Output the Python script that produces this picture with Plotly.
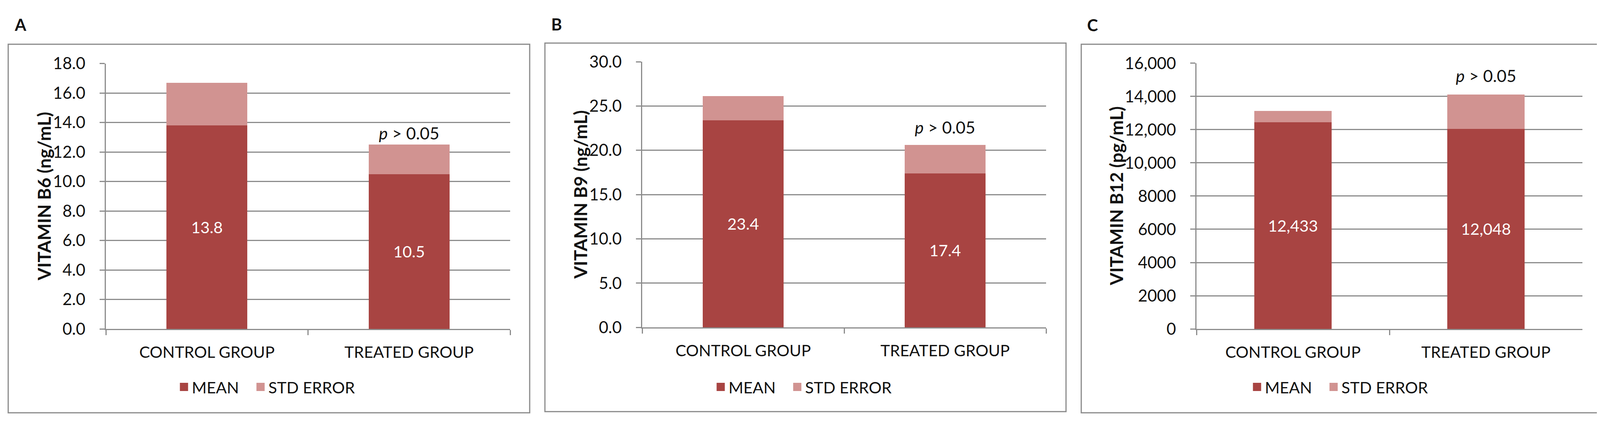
import plotly.graph_objects as go

# ---------------- data ----------------
categories = ["CONTROL GROUP", "TREATED GROUP"]
series_names = ["MEAN", "STD ERROR"]

b6_mean = [13.8, 10.5]
b6_se = [2.9, 2.0]

b9_mean = [23.4, 17.4]
b9_se = [2.7, 3.2]

b12_mean = [12433, 12048]
b12_se = [700, 2060]

b6_range = [0, 18]
b9_range = [0, 30]
b12_range = [0, 16000]
b12_tickvals = [0, 2000, 4000, 6000, 8000, 10000, 12000, 14000, 16000]
b12_ticktext = ["0", "2000", "4000", "6000", "8000", "10,000", "12,000", "14,000", "16,000"]

panel_letters = ["A", "B", "C"]
y_titles = ["VITAMIN B6 (ng/mL)", "VITAMIN B9 (ng/mL)", "VITAMIN B12 (pg/mL)"]
p_label = "<i>p</i> &gt; 0.05"

# ---------------- style ----------------
W, H = 4110, 1088
FONT = "Lato"
MEAN_COLOR = "#A84442"
SE_COLOR = "#D19391"
SERIES_COLORS = [MEAN_COLOR, SE_COLOR]
GRID = "#8C8C8C"
BORDER = "#8A8A8A"
TXT = "#111111"
TICK_SIZE = 42
CAT_SIZE = 41
TITLE_SIZE = 46
LEGEND_Y = 1003
# legend swatch centres, relative to each panel's left border
SWATCH_OFFSETS = [468, 664]
LEGEND_PAD = 38


def px_x(v):
    return v / W


def px_y(v):
    return 1 - v / H


panels = [
    dict(mean=b6_mean, se=b6_se, rng=b6_range, dtick=2, fmt=".1f", tt="%{y:.1f}",
         plot_x=(263, 1298), plot_y=(135, 847), border=(13, 83, 1348, 1072),
         title_x=104, letter_x=27, letter_y=30, p_shift=30),
    dict(mean=b9_mean, se=b9_se, rng=b9_range, dtick=5, fmt=".1f", tt="%{y:.1f}",
         plot_x=(1636, 2670), plot_y=(130, 843), border=(1387, 80, 2721, 1069),
         title_x=1477, letter_x=1401, letter_y=29, p_shift=46),
    dict(mean=b12_mean, se=b12_se, rng=b12_range, dtick=None, fmt=None, tt="%{y:,.0f}",
         plot_x=(3055, 4043), plot_y=(134, 847), border=(2760, 83, 4094, 1072),
         title_x=2850, letter_x=2773, letter_y=31, p_shift=49),
]

fig = go.Figure()
layout = dict(
    width=W, height=H, autosize=False,
    margin=dict(l=0, r=0, t=0, b=0),
    paper_bgcolor="white", plot_bgcolor="white",
    barmode="stack", bargap=0.6,
    font=dict(family=FONT, size=40, color=TXT),
    hovermode=False,
)
annotations = []
shapes = []
leg_count = 0

for i, p in enumerate(panels):
    n = "" if i == 0 else str(i + 1)
    xa, ya = "x" + n, "y" + n

    fig.add_trace(go.Bar(
        x=categories, y=p["mean"], name=series_names[0], xaxis=xa, yaxis=ya,
        marker=dict(color=MEAN_COLOR, line=dict(width=0)),
        texttemplate=p["tt"], textposition="inside", insidetextanchor="middle",
        textangle=0, constraintext="none",
        textfont=dict(family=FONT, size=41, color="white"),
        showlegend=False,
    ))
    fig.add_trace(go.Bar(
        x=categories, y=p["se"], name=series_names[1], xaxis=xa, yaxis=ya,
        marker=dict(color=SE_COLOR, line=dict(width=0)),
        showlegend=False,
    ))
    # legend entries (square swatches), one legend box per entry
    for k, (name, col) in enumerate(zip(series_names, SERIES_COLORS)):
        leg_count += 1
        leg = "legend" if leg_count == 1 else "legend%d" % leg_count
        fig.add_trace(go.Scatter(
            x=[None], y=[None], mode="markers", name=name, xaxis=xa, yaxis=ya,
            marker=dict(symbol="square", size=16, color=col, line=dict(color=col, width=5)),
            legend=leg, showlegend=True,
        ))
        layout[leg] = dict(
            x=px_x(p["border"][0] + SWATCH_OFFSETS[k] - LEGEND_PAD), y=px_y(LEGEND_Y),
            xanchor="left", yanchor="middle",
            xref="paper", yref="paper", orientation="h", bgcolor="rgba(0,0,0,0)",
            borderwidth=0, traceorder="normal",
            font=dict(family=FONT, size=41, color=TXT), itemclick=False, itemdoubleclick=False,
        )

    layout["xaxis" + n] = dict(
        domain=[px_x(p["plot_x"][0]), px_x(p["plot_x"][1])], anchor=ya,
        type="category", showgrid=False, showline=True, linecolor=GRID, linewidth=3,
        ticks="outside", tickson="boundaries", ticklen=13, tickwidth=3, tickcolor=GRID,
        tickfont=dict(family=FONT, size=CAT_SIZE, color=TXT), ticklabelstandoff=22,
        fixedrange=True,
    )
    yax = dict(
        domain=[px_y(p["plot_y"][1]), px_y(p["plot_y"][0])], anchor=xa,
        range=p["rng"], showgrid=True, gridcolor=GRID, gridwidth=3, zeroline=False,
        showline=True, linecolor=GRID, linewidth=3,
        ticks="outside", ticklen=13, tickwidth=3, tickcolor=GRID,
        tickfont=dict(family=FONT, size=TICK_SIZE, color=TXT), ticklabelstandoff=28,
        fixedrange=True,
    )
    if p["dtick"] is not None:
        yax.update(tick0=0, dtick=p["dtick"], tickformat=p["fmt"])
    else:
        yax.update(tickmode="array", tickvals=b12_tickvals, ticktext=b12_ticktext)
    layout["yaxis" + n] = yax

    # panel border
    bx0, by0, bx1, by1 = p["border"]
    shapes.append(dict(type="rect", xref="paper", yref="paper",
                       x0=px_x(bx0), x1=px_x(bx1), y0=px_y(by1), y1=px_y(by0),
                       line=dict(color=BORDER, width=3), fillcolor="rgba(0,0,0,0)", layer="below"))
    # panel letter
    annotations.append(dict(text="<b>%s</b>" % panel_letters[i], xref="paper", yref="paper",
                            x=px_x(p["letter_x"]), y=px_y(p["letter_y"]), xanchor="left", yanchor="middle",
                            showarrow=False, font=dict(family=FONT, size=42, color=TXT)))
    # y-axis title
    annotations.append(dict(text="<b>%s</b>" % y_titles[i], xref="paper", yref="paper",
                            x=px_x(p["title_x"]), y=px_y((p["plot_y"][0] + p["plot_y"][1]) / 2),
                            xanchor="center", yanchor="middle", textangle=-90,
                            showarrow=False, font=dict(family=FONT, size=TITLE_SIZE, color=TXT)))
    # p-value label above treated bar
    annotations.append(dict(text=p_label, xref=xa, yref=ya,
                            x=categories[1], y=p["mean"][1] + p["se"][1],
                            xanchor="center", yanchor="middle", yshift=p["p_shift"],
                            showarrow=False, font=dict(family=FONT, size=43, color=TXT)))

layout["annotations"] = annotations
layout["shapes"] = shapes
fig.update_layout(**layout)
fig.write_html("out.html")
